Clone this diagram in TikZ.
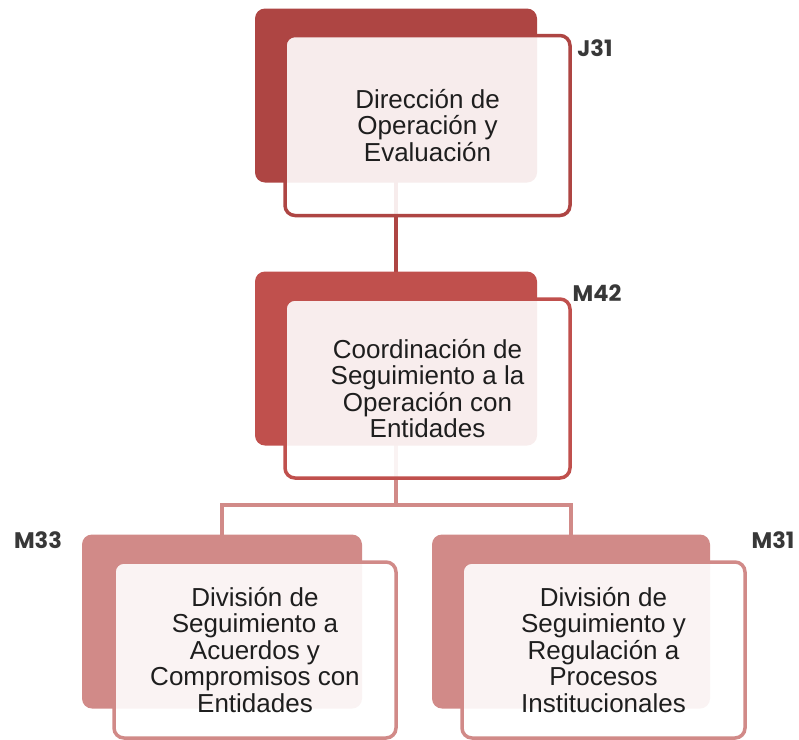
\documentclass[tikz,border=0pt]{standalone}
\usepackage{fontspec}
\setmainfont{Liberation Sans}
\newfontfamily\codefont{Poppins}
\usepackage{tikz}
\usetikzlibrary{backgrounds}
\usepackage{xcolor}
\definecolor{DarkRed}{HTML}{AE4543}
\definecolor{MidRed}{HTML}{C0504D}
\definecolor{SoftRed}{HTML}{D18A88}
\definecolor{Ink}{HTML}{1E1E1E}
\definecolor{CodeGray}{HTML}{383838}

\begin{document}
\begin{tikzpicture}[x=1pt,y=-1pt,
    back/.style={rounded corners=10pt,inner sep=0pt,minimum width=282pt,minimum height=174pt},
    front/.style={draw=#1,line width=3.5pt,fill=white,fill opacity=0.9,text opacity=1,
      rounded corners=10pt,inner sep=0pt,minimum width=285pt,minimum height=180pt,
      align=center,text=Ink,font=\fontsize{26}{26.5}\selectfont},
    code/.style={font=\codefont\bfseries\fontsize{22.5}{22.5}\selectfont,text=CodeGray},
    link/.style={line width=4pt,draw=#1}]
    \useasboundingbox (0,0) rectangle (799,739);
    % back plates
    \node[back,fill=DarkRed] (dirB) at (396,95.5) {};
    \node[back,fill=MidRed] (coB) at (396,358.5) {};
    \node[back,fill=SoftRed,minimum width=280pt] (acuB) at (222,621.5) {};
    \node[back,fill=SoftRed,minimum width=278pt] (proB) at (571,621.5) {};
    % connectors, behind the plates
    \begin{scope}[on background layer]
      \coordinate (split) at (396,505);
      \draw[link=DarkRed] (dirB.center) -- (coB.center);
      \draw[link=SoftRed] (coB.center) -- (split) -| (acuB.center);
      \draw[link=SoftRed] (split) -| (proB.center);
    \end{scope}
    % front boxes
    \node[front=DarkRed] (dir) at (427.5,125.5)
      {Dirección de\\Operación y\\Evaluación};
    \node[front=MidRed,minimum height=179pt] (co) at (427.5,388.5)
      {Coordinación de\\Seguimiento a la\\Operación con\\Entidades};
    \node[front=SoftRed,minimum width=282pt,minimum height=176pt] (acu) at (255,650)
      {División de\\Seguimiento a\\Acuerdos y\\Compromisos con\\Entidades};
    \node[front=SoftRed,minimum width=283pt,minimum height=176pt] (pro) at (603.5,650)
      {División de\\Seguimiento y\\Regulación a\\Procesos\\Institucionales};
    % codes
    \node[code] (dirC) at (595,48) {J31};
    \node[code] (coC) at (597,293) {M42};
    \node[code] (acuC) at (38,540) {M33};
    \node[code] (proC) at (773,540) {M31};
  \end{tikzpicture}
\end{document}
